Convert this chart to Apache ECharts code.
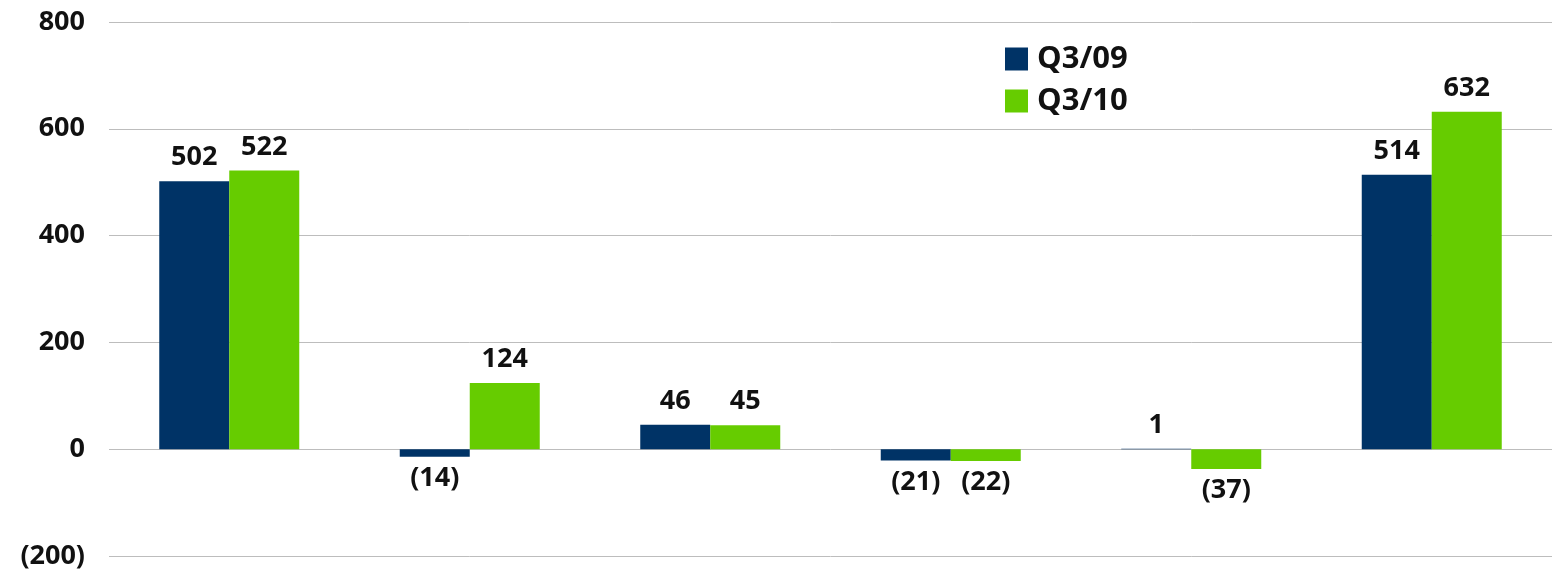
<!DOCTYPE html>
<html>
<head>
<meta charset="utf-8">
<script src="https://cdn.jsdelivr.net/npm/echarts@6/dist/echarts.min.js"></script>
<style>
  html, body { margin: 0; padding: 0; background: #fff; }
  #chart { width: 1552px; height: 571px; }
</style>
</head>
<body>
<div id="chart"></div>
<script>
const categories = ['A', 'B', 'C', 'D', 'E', 'F']
const seriesNames = ['Q3/09', 'Q3/10']
const q309 = [502, -14, 46, -21, 1, 514]
const q310 = [522, 124, 45, -22, -37, 632]
const yTicks = { min: -200, max: 800, interval: 200 }

const fmt = v => (v < 0 ? '(' + Math.abs(v) + ')' : String(v))

const FONT = 'Open Sans'

const labelStyle = {
  show: true,
  fontFamily: FONT,
  fontWeight: 'bold',
  fontSize: 27,
  color: '#111',
  formatter: p => fmt(p.value)
}

// negative values get their label below the bar
const makeData = vals => vals.map(v => ({
  value: v,
  label: v < 0 ? { position: 'bottom', distance: 8 } : { position: 'top', distance: 10 }
}))

const chart = echarts.init(document.getElementById('chart'))
chart.setOption({
  animation: false,
  grid: { left: 109, right: 0, top: 22, bottom: 15, containLabel: false },
  legend: {
    orient: 'vertical',
    left: 1000,
    top: 38,
    itemWidth: 23,
    itemHeight: 23,
    itemGap: 10,
    icon: 'rect',
    textStyle: { fontFamily: FONT, fontWeight: 'bold', fontSize: 31, lineHeight: 32, color: '#111', padding: [0, 0, 0, 4] },
    data: seriesNames
  },
  xAxis: {
    type: 'category',
    data: categories,
    axisLine: { show: false },
    axisTick: { show: false },
    axisLabel: { show: false }
  },
  yAxis: {
    type: 'value',
    min: yTicks.min,
    max: yTicks.max,
    interval: yTicks.interval,
    axisLine: { show: false },
    axisTick: { show: false },
    splitLine: { lineStyle: { color: '#bdbdbd', width: 1 } },
    axisLabel: {
      margin: 24,
      fontFamily: FONT,
      fontWeight: 'bold',
      fontSize: 27,
      color: '#111',
      formatter: fmt
    }
  },
  series: [
    {
      name: seriesNames[0],
      type: 'bar',
      barWidth: 70,
      barGap: '0%',
      itemStyle: { color: '#003366' },
      label: labelStyle,
      data: makeData(q309)
    },
    {
      name: seriesNames[1],
      type: 'bar',
      barWidth: 70,
      barGap: '0%',
      itemStyle: { color: '#66cc00' },
      label: labelStyle,
      data: makeData(q310)
    }
  ]
})
</script>
</body>
</html>
